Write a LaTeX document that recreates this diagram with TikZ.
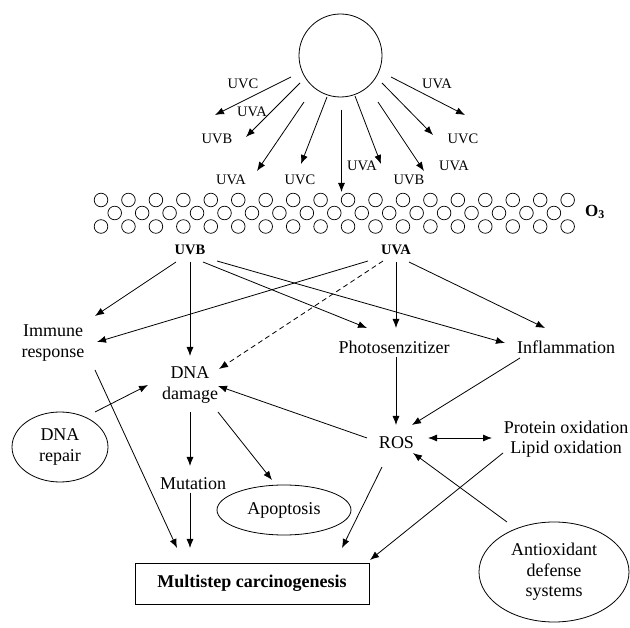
\documentclass[tikz,border=0pt]{standalone}
\usepackage{fontspec}
\setmainfont{Liberation Serif}
\usetikzlibrary{arrows.meta,shapes.geometric}
\begin{document}
\begin{tikzpicture}[x=1pt,y=-1pt,
  every node/.style={inner sep=0pt},
  lbl/.style={font=\fontsize{18}{20.5}\selectfont, align=center},
  raylbl/.style={font=\fontsize{14.5}{16}\selectfont},
  uvlbl/.style={font=\fontsize{14.5}{16}\selectfont\bfseries},
  arr/.style={line width=0.8pt, -{Latex[length=9pt,width=7pt]}},
  plain/.style={line width=0.8pt},
  oval/.style={draw, ellipse, line width=0.8pt, lbl},
  ozone/.style={line width=0.7pt}
]
\useasboundingbox (0,0) rectangle (630,628);

% sun
\node[draw,circle,minimum size=83pt,line width=0.8pt] (sun) at (340.5,55.5) {};
\coordinate (r1) at (215,115);
\coordinate (r2) at (246,137);
\coordinate (r3) at (257,171);
\coordinate (r4) at (301,164);
\coordinate (r5) at (341.5,192);
\coordinate (r6) at (381,164);
\coordinate (r7) at (424,171);
\coordinate (r8) at (433,135);
\coordinate (r9) at (465,115);
\draw[arr] ([shift={(-49.5,21.5)}]sun.center) -- (r1);
\draw[arr] ([shift={(-40.5,27.5)}]sun.center) -- (r2);
\draw[arr] ([shift={(-36.5,46.5)}]sun.center) -- (r3);
\draw[arr] ([shift={(-13.5,41.5)}]sun.center) -- (r4);
\draw[arr] ([shift={(1,54.5)}]sun.center) -- (r5);
\draw[arr] ([shift={(14.5,40.5)}]sun.center) -- (r6);
\draw[arr] ([shift={(37.5,46.5)}]sun.center) -- (r7);
\draw[arr] ([shift={(41.5,27.5)}]sun.center) -- (r8);
\draw[arr] ([shift={(50.5,21.5)}]sun.center) -- (r9);

% ray labels
\node[raylbl] (l1) at (243,84) {UVC};
\node[raylbl] (l2) at (252,112) {UVA};
\node[raylbl] (l3) at (217,139) {UVB};
\node[raylbl] (l4) at (231,180) {UVA};
\node[raylbl] (l5) at (300,180) {UVC};
\node[raylbl] (l6) at (362,166) {UVA};
\node[raylbl] (l7) at (409,180) {UVB};
\node[raylbl] (l8) at (463,139) {UVC};
\node[raylbl] (l9) at (454,166) {UVA};
\node[raylbl] (l10) at (437,84) {UVA};

% ozone layer
\foreach \k in {0,...,17} {
  \draw[ozone] (101+27.45*\k,200) circle[radius=6.8];
  \draw[ozone] (101+27.45*\k,226.5) circle[radius=6.8];
}
\foreach \k in {0,...,16} {
  \draw[ozone] (114.7+27.45*\k,213) circle[radius=6.8];
}
\node[font=\fontsize{17}{18}\selectfont\bfseries] (o3) at (595,212) {O\textsubscript{3}};

% main nodes
\node[uvlbl] (uvb) at (190,250) {UVB};
\node[uvlbl] (uva) at (396,250) {UVA};
\node[lbl] (immune) at (53,343) {Immune\\response};
\node[lbl] (dna) at (190,385) {DNA\\damage};
\node[lbl] (photo) at (394,347) {Photosenzitizer};
\node[lbl] (infl) at (566,347) {Inflammation};
\node[lbl] (ros) at (396.5,443) {ROS};
\node[lbl] (prot) at (566,439) {Protein oxidation\\Lipid oxidation};
\node[oval,minimum width=96pt,minimum height=70pt] (repair) at (60,447) {DNA\\repair};
\node[lbl] (mut) at (193,484) {Mutation};
\node[oval,minimum width=134pt,minimum height=50pt] (apop) at (284,510) {Apoptosis};
\node[draw,line width=0.8pt,minimum width=234pt,minimum height=41pt,font=\fontsize{18}{20}\selectfont\bfseries] (multi) at (252,583.5) {Multistep carcinogenesis};
\node[oval,minimum width=150pt,minimum height=100pt] (anti) at (554,572) {Antioxidant\\defense\\systems};

% connectors from UVB
\draw[arr] ([shift={(-14,12)}]uvb.center) -- ([shift={(42,-27)}]immune.center);
\draw[arr] ([shift={(0,12)}]uvb.center) -- ([shift={(0,-29)}]dna.center);
\draw[arr] ([shift={(13,12)}]uvb.center) -- ([shift={(-27,-19)}]photo.center);
\draw[arr] ([shift={(27,11)}]uvb.center) -- ([shift={(-61,-4)}]infl.center);
% connectors from UVA
\draw[arr] ([shift={(-28,11)}]uva.center) -- ([shift={(44,-1)}]immune.center);
\draw[arr,dash pattern=on 5pt off 3.5pt] ([shift={(-13,11)}]uva.center) -- ([shift={(29,-16)}]dna.center);
\draw[arr] ([shift={(0,12)}]uva.center) -- ([shift={(2,-19)}]photo.center);
\draw[arr] ([shift={(13,12)}]uva.center) -- ([shift={(-21,-19)}]infl.center);
% lower
\draw[arr] ([shift={(2,10)}]photo.center) -- ([shift={(-0.5,-18)}]ros.center);
\draw[arr] ([shift={(-46,11)}]infl.center) -- ([shift={(15.5,-18)}]ros.center);
\draw[arr] ([shift={(-29.5,-5)}]ros.center) -- ([shift={(28,1)}]dna.center);
\draw[line width=0.8pt,{Latex[length=9pt,width=7pt]}-{Latex[length=9pt,width=7pt]}] ([shift={(31.5,-5)}]ros.center) -- ([shift={(-74,-1)}]prot.center);
\draw[arr] ([shift={(-63,14)}]prot.center) -- ([shift={(118,-23.5)}]multi.center);
\draw[arr] ([shift={(-47,-50)}]anti.center) -- ([shift={(16.5,10)}]ros.center);
\draw[arr] ([shift={(-14.5,24)}]ros.center) -- ([shift={(90,-35.5)}]multi.center);
\draw[arr] ([shift={(35,-35)}]repair.center) -- ([shift={(-42,0)}]dna.center);
\draw[arr] ([shift={(42,27)}]immune.center) -- ([shift={(-75,-35.5)}]multi.center);
\draw[arr] ([shift={(0,27)}]dna.center) -- ([shift={(-3,-18)}]mut.center);
\draw[arr] ([shift={(28,27)}]dna.center) -- ([shift={(-12,-30)}]apop.center);
\draw[arr] ([shift={(-3,9)}]mut.center) -- ([shift={(-62,-35.5)}]multi.center);
\end{tikzpicture}
\end{document}
